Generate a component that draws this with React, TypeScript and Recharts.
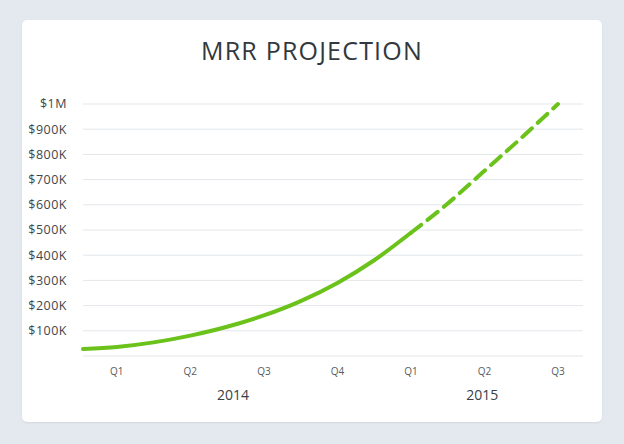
import { CartesianGrid, Line, LineChart, XAxis, YAxis } from 'recharts';

// quarter positions along the x axis (1 = Q1 2014)
const POSITIONS = [0.54, 1, 1.5, 2, 2.5, 3, 3.5, 4, 4.5, 5, 5.5, 6, 6.5, 7];
const ACTUAL_MRR = [28000, 36000, 54000, 81000, 116000, 161000, 218000, 290000, 380000, 489000, null, null, null, null];
const PROJECTED_MRR = [null, null, null, null, null, null, null, null, null, 489000, 605000, 735000, 865000, 1000000];

const QUARTER_TICKS = [1, 2, 3, 4, 5, 6, 7];
const QUARTER_LABELS = ['Q1', 'Q2', 'Q3', 'Q4', 'Q1', 'Q2', 'Q3'];
const YEAR_TICKS = [2.58, 5.97];
const YEAR_LABELS = ['2014', '2015'];
const Y_TICKS = [0, 100000, 200000, 300000, 400000, 500000, 600000, 700000, 800000, 900000, 1000000];

const GREEN = '#6ac21a';
const FONT = '"Open Sans", sans-serif';

const data = POSITIONS.map((x, i) => ({ x, actual: ACTUAL_MRR[i], projected: PROJECTED_MRR[i] }));

function formatMoney(v: number): string {
  if (v === 0) return '';
  if (v >= 1000000) return `$${v / 1000000}M`;
  return `$${v / 1000}K`;
}

export default function App() {
  return (
    <div style={{ position: 'absolute', left: 0, top: 0, width: 624, height: 444, background: '#e4e8ef', fontFamily: FONT }}>
      <div
        style={{
          position: 'absolute',
          left: 22,
          top: 20,
          width: 580,
          height: 402,
          background: '#fff',
          borderRadius: 5,
          boxShadow: '0 1px 2px rgba(0,0,0,0.08)',
        }}
      />
      <div
        style={{
          position: 'absolute',
          left: 0,
          top: 33,
          width: 624,
          textAlign: 'center',
          fontSize: 25,
          color: '#32383d',
          letterSpacing: 1.2,
        }}
      >
        MRR PROJECTION
      </div>
      <div style={{ position: 'absolute', left: 0, top: 0 }}>
        <LineChart width={624} height={444} data={data} margin={{ top: 104, right: 41, left: 23, bottom: 34 }}>
          <CartesianGrid vertical={false} stroke="#e3e6ea" strokeWidth={1} />
          <XAxis
            dataKey="x"
            type="number"
            domain={[0.54, 7.34]}
            ticks={QUARTER_TICKS}
            tickFormatter={(v: number) => QUARTER_LABELS[QUARTER_TICKS.indexOf(v)]}
            axisLine={false}
            tickLine={false}
            tickMargin={6}
            height={24}
            tick={{ fontSize: 10, fill: '#555b60', fontFamily: FONT }}
            interval={0}
          />
          <XAxis
            xAxisId="year"
            dataKey="x"
            type="number"
            domain={[0.54, 7.34]}
            ticks={YEAR_TICKS}
            tickFormatter={(v: number) => YEAR_LABELS[YEAR_TICKS.indexOf(v)]}
            axisLine={false}
            tickLine={false}
            tickMargin={4}
            height={30}
            tick={{ fontSize: 14, fill: '#3a4045', fontFamily: FONT }}
            interval={0}
          />
          <YAxis
            type="number"
            domain={[0, 1000000]}
            ticks={Y_TICKS}
            tickFormatter={formatMoney}
            axisLine={false}
            tickLine={false}
            tickMargin={10}
            width={60}
            tick={{ fontSize: 12.5, fill: '#40464b', fontFamily: FONT, letterSpacing: 0.5 }}
            interval={0}
          />
          <Line
            type="monotone"
            dataKey="actual"
            stroke={GREEN}
            strokeWidth={4}
            dot={false}
            activeDot={false}
            strokeLinecap="round"
            connectNulls={false}
            isAnimationActive={false}
          />
          <Line
            type="monotone"
            dataKey="projected"
            stroke={GREEN}
            strokeWidth={4}
            strokeDasharray="13 8"
            strokeLinecap="round"
            dot={false}
            activeDot={false}
            connectNulls={false}
            isAnimationActive={false}
          />
        </LineChart>
      </div>
    </div>
  );
}
